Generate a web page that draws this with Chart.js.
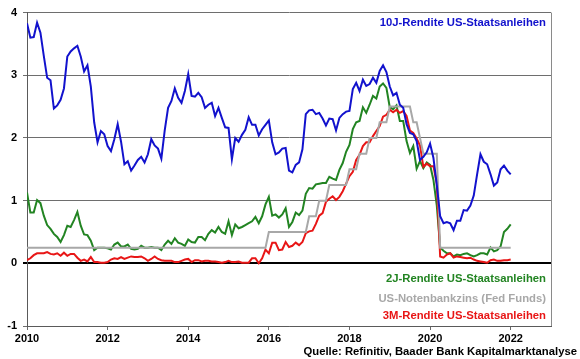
<!DOCTYPE html>
<html>
<head>
<meta charset="utf-8">
<script src="https://cdn.jsdelivr.net/npm/chart.js@4/dist/chart.umd.min.js"></script>
<style>
html,body{margin:0;padding:0;background:#fff;}
#wrap{width:580px;height:359px;}
</style>
</head>
<body>
<div id="wrap"><canvas id="c" width="580" height="359"></canvas></div>
<script>
// Monthly end-of-month values, first point = end of Dec 2009 (plotted at 2010.0)
const firstYear = 2010;

const yield10y = [
  3.83,
  3.60, 3.61, 3.84, 3.68, 3.31, 2.96, 2.92, 2.47, 2.52, 2.61, 2.79, 3.30,
  3.38, 3.43, 3.47, 3.30, 3.06, 3.16, 2.82, 2.25, 1.93, 2.11, 2.06, 1.87,
  1.79, 1.98, 2.22, 1.94, 1.58, 1.63, 1.48, 1.56, 1.65, 1.70, 1.61, 1.74,
  1.98, 1.88, 1.83, 1.67, 2.12, 2.48, 2.59, 2.79, 2.64, 2.56, 2.75, 3.02,
  2.67, 2.66, 2.72, 2.65, 2.48, 2.53, 2.56, 2.35, 2.48, 2.32, 2.17, 2.16,
  1.66, 2.00, 1.94, 2.05, 2.13, 2.33, 2.21, 2.21, 2.04, 2.14, 2.21, 2.28,
  1.93, 1.74, 1.77, 1.83, 1.84, 1.48, 1.45, 1.57, 1.61, 1.82, 2.38, 2.44,
  2.45, 2.38, 2.40, 2.31, 2.20, 2.31, 2.30, 2.12, 2.32, 2.38, 2.42, 2.43,
  2.78, 2.88, 2.75, 2.93, 2.83, 2.86, 2.96, 2.88, 3.07, 3.16, 3.05, 2.82,
  2.68, 2.72, 2.53, 2.48, 2.22, 2.08, 2.06, 1.95, 1.65, 1.70, 1.77, 1.91,
  1.68, 1.25, 0.75, 0.64, 0.66, 0.64, 0.53, 0.68, 0.68, 0.85, 0.84, 0.92,
  1.08, 1.42, 1.74, 1.62, 1.58, 1.42, 1.24, 1.29, 1.50, 1.56, 1.48, 1.42
];

const yield2y = [
  1.13,
  0.81, 0.81, 1.01, 0.96, 0.76, 0.61, 0.55, 0.47, 0.42, 0.34, 0.45, 0.60,
  0.58, 0.69, 0.82, 0.60, 0.46, 0.45, 0.36, 0.21, 0.25, 0.25, 0.25, 0.24,
  0.22, 0.30, 0.33, 0.27, 0.27, 0.30, 0.23, 0.22, 0.23, 0.28, 0.25, 0.25,
  0.26, 0.25, 0.25, 0.21, 0.30, 0.36, 0.31, 0.40, 0.33, 0.31, 0.28, 0.38,
  0.34, 0.33, 0.42, 0.42, 0.37, 0.47, 0.53, 0.49, 0.58, 0.50, 0.47, 0.67,
  0.45, 0.62, 0.56, 0.58, 0.61, 0.64, 0.67, 0.74, 0.64, 0.75, 0.94, 1.06,
  0.76, 0.78, 0.73, 0.78, 0.88, 0.58, 0.66, 0.81, 0.77, 0.84, 1.11, 1.20,
  1.19, 1.26, 1.27, 1.28, 1.28, 1.38, 1.35, 1.33, 1.49, 1.60, 1.78, 1.89,
  2.14, 2.25, 2.27, 2.49, 2.40, 2.53, 2.67, 2.63, 2.82, 2.87, 2.80, 2.49,
  2.46, 2.52, 2.27, 2.27, 1.95, 1.76, 1.87, 1.51, 1.63, 1.52, 1.61, 1.57,
  1.33, 0.92, 0.25, 0.20, 0.16, 0.16, 0.11, 0.14, 0.13, 0.15, 0.16, 0.13,
  0.11, 0.13, 0.16, 0.16, 0.14, 0.25, 0.19, 0.21, 0.27, 0.50, 0.55, 0.62
];

const fedFunds = [
  0.25,
  0.25, 0.25, 0.25, 0.25, 0.25, 0.25, 0.25, 0.25, 0.25, 0.25, 0.25, 0.25,
  0.25, 0.25, 0.25, 0.25, 0.25, 0.25, 0.25, 0.25, 0.25, 0.25, 0.25, 0.25,
  0.25, 0.25, 0.25, 0.25, 0.25, 0.25, 0.25, 0.25, 0.25, 0.25, 0.25, 0.25,
  0.25, 0.25, 0.25, 0.25, 0.25, 0.25, 0.25, 0.25, 0.25, 0.25, 0.25, 0.25,
  0.25, 0.25, 0.25, 0.25, 0.25, 0.25, 0.25, 0.25, 0.25, 0.25, 0.25, 0.25,
  0.25, 0.25, 0.25, 0.25, 0.25, 0.25, 0.25, 0.25, 0.25, 0.25, 0.25, 0.50,
  0.50, 0.50, 0.50, 0.50, 0.50, 0.50, 0.50, 0.50, 0.50, 0.50, 0.50, 0.75,
  0.75, 0.75, 1.00, 1.00, 1.00, 1.25, 1.25, 1.25, 1.25, 1.25, 1.25, 1.50,
  1.50, 1.50, 1.75, 1.75, 1.75, 2.00, 2.00, 2.00, 2.25, 2.25, 2.25, 2.50,
  2.50, 2.50, 2.50, 2.50, 2.50, 2.50, 2.25, 2.25, 2.00, 1.75, 1.75, 1.75,
  1.75, 1.75, 0.25, 0.25, 0.25, 0.25, 0.25, 0.25, 0.25, 0.25, 0.25, 0.25,
  0.25, 0.25, 0.25, 0.25, 0.25, 0.25, 0.25, 0.25, 0.25, 0.25, 0.25, 0.25
];

const yield3m = [
  0.05,
  0.08, 0.13, 0.16, 0.16, 0.16, 0.18, 0.15, 0.14, 0.16, 0.12, 0.17, 0.12,
  0.15, 0.15, 0.09, 0.04, 0.06, 0.03, 0.10, 0.02, 0.02, 0.01, 0.01, 0.02,
  0.06, 0.08, 0.07, 0.10, 0.07, 0.09, 0.11, 0.10, 0.10, 0.11, 0.08, 0.04,
  0.07, 0.11, 0.07, 0.05, 0.04, 0.04, 0.04, 0.02, 0.02, 0.04, 0.06, 0.07,
  0.02, 0.05, 0.05, 0.03, 0.04, 0.04, 0.03, 0.03, 0.02, 0.01, 0.02, 0.04,
  0.02, 0.02, 0.03, 0.01, 0.01, 0.01, 0.08, 0.08, 0.00, 0.08, 0.22, 0.16,
  0.33, 0.33, 0.21, 0.22, 0.34, 0.26, 0.28, 0.33, 0.29, 0.34, 0.48, 0.51,
  0.52, 0.63, 0.76, 0.80, 0.98, 1.03, 1.07, 1.01, 1.06, 1.15, 1.27, 1.39,
  1.46, 1.65, 1.73, 1.87, 1.93, 1.93, 2.03, 2.11, 2.19, 2.34, 2.37, 2.45,
  2.41, 2.45, 2.40, 2.43, 2.35, 2.12, 2.08, 1.99, 1.88, 1.54, 1.59, 1.55,
  1.55, 1.27, 0.11, 0.09, 0.14, 0.16, 0.09, 0.11, 0.10, 0.09, 0.08, 0.09,
  0.06, 0.04, 0.03, 0.02, 0.01, 0.05, 0.06, 0.04, 0.04, 0.05, 0.05, 0.06
];

const seriesLabels = [
  "10J-Rendite US-Staatsanleihen",
  "2J-Rendite US-Staatsanleihen",
  "US-Notenbankzins (Fed Funds)",
  "3M-Rendite US-Staatsanleihen"
];
const sourceText = "Quelle: Refinitiv, Baader Bank Kapitalmarktanalyse";

const xMin = 2010, xMax = 2023, xStep = 2;
const yMin = -1, yMax = 4, yStep = 1;

const COL_BLUE = "rgb(18,18,205)";
const COL_GREEN = "rgb(34,132,34)";
const COL_GRAY = "rgb(168,168,168)";
const COL_RED = "rgb(232,22,22)";

function toPoints(arr) {
  return arr.map((v, i) => ({ x: firstYear + i / 12, y: v }));
}

const FONT = "'Liberation Sans', Arial, sans-serif";

const textPlugin = {
  id: "texts",
  afterDraw(chart) {
    const ctx = chart.ctx;
    const a = chart.chartArea;
    ctx.save();
    // right border
    ctx.strokeStyle = "#8a8a8a";
    ctx.lineWidth = 1;
    ctx.beginPath();
    ctx.moveTo(Math.round(a.right) + 0.5, a.top);
    ctx.lineTo(Math.round(a.right) + 0.5, a.bottom);
    ctx.stroke();

    ctx.font = "bold 11.3px " + FONT;
    ctx.textAlign = "right";
    ctx.textBaseline = "middle";
    const rx = a.right - 5;
    ctx.fillStyle = COL_BLUE;  ctx.fillText(seriesLabels[0], rx, 23);
    ctx.fillStyle = COL_GREEN; ctx.fillText(seriesLabels[1], rx, 279);
    ctx.fillStyle = COL_GRAY;  ctx.fillText(seriesLabels[2], rx, 299);
    ctx.fillStyle = COL_RED;   ctx.fillText(seriesLabels[3], rx, 316);

    ctx.fillStyle = "#000";
    ctx.fillText(sourceText, 577, 352);
    ctx.restore();
  }
};

new Chart(document.getElementById("c"), {
  type: "line",
  data: {
    datasets: [
      { label: seriesLabels[0], data: toPoints(yield10y), borderColor: COL_BLUE, borderWidth: 2 },
      { label: seriesLabels[2], data: toPoints(fedFunds), borderColor: COL_GRAY, borderWidth: 2 },
      { label: seriesLabels[3], data: toPoints(yield3m), borderColor: COL_RED, borderWidth: 2 },
      { label: seriesLabels[1], data: toPoints(yield2y), borderColor: COL_GREEN, borderWidth: 2 }
    ]
  },
  options: {
    responsive: false,
    animation: false,
    devicePixelRatio: 1,
    layout: { padding: { top: 11, right: 29, left: 0, bottom: 0 } },
    elements: { point: { radius: 0 }, line: { tension: 0 } },
    plugins: { legend: { display: false }, tooltip: { enabled: false } },
    scales: {
      x: {
        type: "linear",
        min: xMin, max: xMax,
        ticks: {
          stepSize: xStep, includeBounds: false, autoSkip: false, maxRotation: 0,
          padding: 2, color: "#000",
          font: { family: FONT, size: 11, weight: "bold" },
          callback: v => String(v)
        },
        grid: { drawOnChartArea: false, drawTicks: true, tickLength: 4, color: "#6a6a6a" },
        border: { color: "#5a5a5a", width: 1 },
        afterFit: s => { s.height = 33; }
      },
      y: {
        min: yMin, max: yMax,
        ticks: {
          stepSize: yStep, padding: 6, color: "#000",
          font: { family: FONT, size: 11, weight: "bold" },
          callback: v => String(v)
        },
        grid: {
          drawTicks: true, tickLength: 4,
          color: c => (c.tick && c.tick.value === 0) ? "#000" : "#6e6e6e",
          lineWidth: c => (c.tick && c.tick.value === 0) ? 2 : 1
        },
        border: { color: "#5a5a5a", width: 1 },
        afterFit: s => { s.width = 27; }
      }
    }
  },
  plugins: [textPlugin]
});
</script>
</body>
</html>
